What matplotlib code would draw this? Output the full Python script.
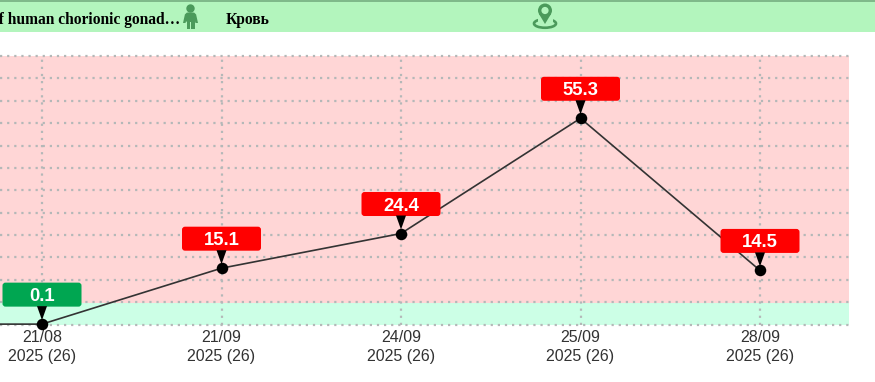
import matplotlib
matplotlib.use('Agg')
import matplotlib.pyplot as plt
from matplotlib.patches import FancyBboxPatch, Polygon, Rectangle, Circle, Ellipse
from matplotlib.transforms import Affine2D

# data
dates = ['21/08', '21/09', '24/09', '25/09', '28/09']
year_labels = ['2025 (26)'] * 5
values = [0.1, 15.1, 24.4, 55.3, 14.5]
box_colors = ['#00a651', '#ff0000', '#ff0000', '#ff0000', '#ff0000']
previous_value = 0.1  # point before the visible window
normal_limit = 5.7
y_max = 72
y_step = 6

W, H = 875, 382
fig = plt.figure(figsize=(W / 100, H / 100), dpi=100, facecolor='white')
plt.rcParams['font.family'] = ['Liberation Sans', 'DejaVu Sans']

ax = fig.add_axes([0, 1 - 324.5 / H, 849 / W, (324.5 - 56) / H])
ax.set_xlim(-42 / 179.5, (849 - 42) / 179.5)
ax.set_ylim(0, y_max)
for s in ax.spines.values():
    s.set_visible(False)

# background bands
ax.axhspan(0, normal_limit, color='#ccffe6', lw=0, zorder=0)
ax.axhspan(normal_limit, y_max, color='#ffd6d6', lw=0, zorder=0)

xs = list(range(len(values)))
ax.set_xticks(xs)
ax.set_xticklabels([d + '\n' + y for d, y in zip(dates, year_labels)],
                   fontsize=11.5, color='#333333', linespacing=1.3)
ax.set_yticks(range(0, y_max + 1, y_step))
ax.set_yticklabels([])
ax.tick_params(length=0, pad=4)
ax.set_axisbelow(True)
ax.grid(True, color='#b4b8b8', lw=1.6, ls=(0, (1, 2.2)), clip_on=False)

ax.plot([-1] + xs, [previous_value] + values, color='#333333', lw=1.2, zorder=3)
ax.plot(xs, values, 'o', color='black', ms=8.3, mew=0, zorder=4, clip_on=False)

# value flags, sized in pixels above each point
for x, v, c in zip(xs, values, box_colors):
    px, py = ax.transData.transform((x, v))
    tr = Affine2D().translate(px, py)
    ax.add_patch(FancyBboxPatch((-37, 20), 74, 19, boxstyle='round,pad=2.5,rounding_size=3',
                                fc=c, ec='none', transform=tr, zorder=5, clip_on=False))
    ax.add_patch(Polygon([(-5, 18), (5, 18), (0, 4)], closed=True, fc='black', ec='none',
                         transform=tr, zorder=5, clip_on=False))
    ax.text(px, py + 29.5, str(v), color='white', fontsize=13.3, fontweight='bold',
            ha='center', va='center_baseline', transform=None, zorder=6, clip_on=False)

# header strip, pixel coordinates
hd = fig.add_axes([0, 0, 1, 1], facecolor='none')
hd.set_xlim(0, W)
hd.set_ylim(H, 0)
hd.axis('off')
green = '#4b9a5b'
hd.add_patch(Rectangle((0, 0), W, 31.5, fc='#b3f5bd', ec='none'))
hd.add_patch(Rectangle((0, 0), W, 1.5, fc='#7fb98a', ec='none'))
serif = ['Liberation Serif', 'DejaVu Serif']
hd.text(180, 20.5, 'of human chorionic gonad…', family=serif, fontweight='bold', fontsize=11.2,
        color='black', ha='right', va='center', clip_on=True)
hd.text(226, 20.5, 'Кровь', family=serif, fontweight='bold', fontsize=11.2,
        color='black', ha='left', va='center')

# person icon
hd.add_patch(Circle((190.5, 8.5), 4.2, fc=green, ec='none'))
hd.add_patch(FancyBboxPatch((185, 12.5), 11, 9.5, boxstyle='round,pad=0,rounding_size=3', fc=green, ec='none'))
hd.add_patch(Rectangle((186.5, 19), 3.5, 9.5, fc=green, ec='none'))
hd.add_patch(Rectangle((191, 19), 3.5, 9.5, fc=green, ec='none'))
hd.add_patch(Polygon([(185, 14), (183, 23), (185.5, 23), (187.5, 16)], fc=green, ec='none'))
hd.add_patch(Polygon([(196, 14), (198, 23), (195.5, 23), (193.5, 16)], fc=green, ec='none'))

# location pin icon
hd.add_patch(Ellipse((545, 23.5), 22, 8.5, fc='none', ec=green, lw=1.9))
hd.add_patch(Rectangle((537.5, 17), 15, 5.5, fc='#b3f5bd', ec='none'))
hd.add_patch(Polygon([(539, 14), (551, 14), (545, 24)], fc=green, ec='none'))
hd.add_patch(Circle((545, 10.5), 7, fc=green, ec='none'))
hd.add_patch(Circle((545, 10.5), 3.6, fc='#b3f5bd', ec='none'))

fig.savefig('out.png', dpi=100)
